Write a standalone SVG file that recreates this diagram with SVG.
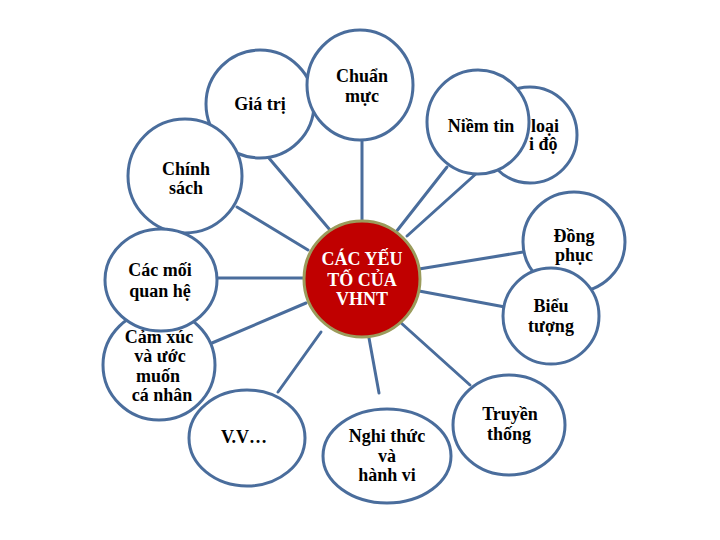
<svg xmlns="http://www.w3.org/2000/svg" width="720" height="540" viewBox="0 0 720 540">
<style>
.n{fill:#ffffff;stroke:#4a6d9c;stroke-width:3}
.c line{stroke:#4a6d9c;stroke-width:3;stroke-linecap:round}
text{font-family:"Liberation Serif","Times New Roman",serif;font-weight:bold;font-size:18px;fill:#000;text-anchor:middle}
.w{fill:#ffffff}
</style>
<rect width="720" height="540" fill="#ffffff"/>
<g id="connectors" class="c">
<line x1="268" y1="157" x2="330" y2="230"/>
<line x1="362" y1="140" x2="362" y2="220"/>
<line x1="396" y1="232" x2="447" y2="167"/>
<line x1="407" y1="236" x2="478" y2="172"/>
<line x1="237" y1="207" x2="308" y2="250"/>
<line x1="217" y1="278" x2="304" y2="278"/>
<line x1="212" y1="343" x2="306" y2="303"/>
<line x1="278" y1="392" x2="321" y2="332"/>
<line x1="369" y1="338" x2="379" y2="393"/>
<line x1="400" y1="322" x2="470" y2="385"/>
<line x1="419" y1="269" x2="523" y2="252"/>
<line x1="419" y1="291" x2="505" y2="307"/>
</g>
<g id="gia-tri">
<circle class="n" cx="260" cy="104" r="54"/>
<text x="260" y="110">Giá trị</text>
</g>
<g id="chuan-muc">
<ellipse class="n" cx="360" cy="85" rx="53" ry="55"/>
<text x="362" y="82">Chuẩn</text>
<text x="362" y="102">mực</text>
</g>
<g id="thai-do">
<ellipse class="n" cx="530" cy="135" rx="47" ry="48"/>
<text x="531" y="132" style="text-anchor:start">loại</text>
<text x="529" y="150" style="text-anchor:start">i độ</text>
</g>
<g id="niem-tin">
<ellipse class="n" cx="478" cy="122" rx="51" ry="52"/>
<text x="481" y="132">Niềm tin</text>
</g>
<g id="chinh-sach">
<ellipse class="n" cx="185" cy="176" rx="57" ry="57"/>
<text x="186" y="175">Chính</text>
<text x="186" y="194">sách</text>
</g>
<g id="cam-xuc">
<ellipse class="n" cx="159" cy="365" rx="56" ry="55"/>
<text x="159" y="343">Cảm xúc</text>
<text x="160" y="362">và ước</text>
<text x="158" y="382">muốn</text>
<text x="162" y="401">cá nhân</text>
</g>
<g id="cac-moi-quan-he">
<ellipse class="n" cx="161" cy="280" rx="56" ry="51"/>
<text x="160" y="276">Các mối</text>
<text x="160" y="297">quan hệ</text>
</g>
<g id="vv">
<ellipse class="n" cx="247" cy="438" rx="58" ry="48"/>
<text x="244" y="443">V.V…</text>
</g>
<g id="nghi-thuc">
<ellipse class="n" cx="387" cy="456" rx="64" ry="47"/>
<text x="387" y="442">Nghi thức</text>
<text x="387" y="462">và</text>
<text x="387" y="481">hành vi</text>
</g>
<g id="truyen-thong">
<ellipse class="n" cx="509" cy="425" rx="56" ry="50"/>
<text x="510" y="420">Truyền</text>
<text x="509" y="440">thống</text>
</g>
<g id="dong-phuc">
<ellipse class="n" cx="574" cy="242" rx="51" ry="50"/>
<text x="574" y="242">Đồng</text>
<text x="574" y="261">phục</text>
</g>
<g id="bieu-tuong">
<ellipse class="n" cx="551" cy="316" rx="48" ry="48"/>
<text x="551" y="312">Biểu</text>
<text x="551" y="332">tượng</text>
</g>
<g id="center">
<circle cx="362" cy="279" r="58" fill="#c00000" stroke="#9b9b5b" stroke-width="3"/>
<text class="w" x="362" y="265">CÁC YẾU</text>
<text class="w" x="362" y="286">TỐ CỦA</text>
<text class="w" x="362" y="305">VHNT</text>
</g>
</svg>
